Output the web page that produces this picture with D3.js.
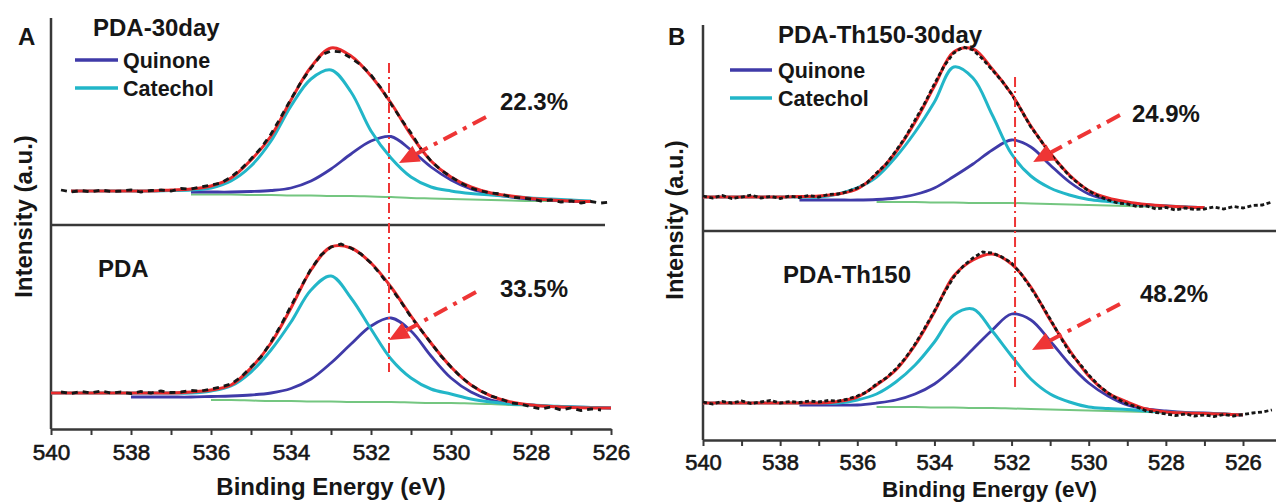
<!DOCTYPE html>
<html>
<head>
<meta charset="utf-8">
<script src="https://cdn.jsdelivr.net/npm/d3@7"></script>
<style>
  html, body { margin: 0; padding: 0; background: #fff; }
  svg { display: block; font-family: "Liberation Sans", Arial, sans-serif; }
</style>
</head>
<body>
<svg id="chart" width="1276" height="502"></svg>
<script>
// O 1s XPS spectra of PDA films: measured data, Catechol / Quinone components,
// their sum (envelope) and the background, plotted against binding energy (eV).

// Binding energies of the fitted curves (eV)
const fitEnergy = [540, 539.5, 539, 538.5, 538, 537.5, 537, 536.5, 536, 535.5, 535, 534.5, 534,
  533.5, 533, 532.5, 532, 531.5, 531, 530.5, 530, 529.5, 529, 528.5, 528, 527.5, 527, 526.5, 526];

// Binding energies of the measured points (eV)
const rawEnergy = [540, 539.75, 539.5, 539.25, 539, 538.75, 538.5, 538.25, 538, 537.75, 537.5, 537.25,
  537, 536.75, 536.5, 536.25, 536, 535.75, 535.5, 535.25, 535, 534.75, 534.5, 534.25, 534, 533.75,
  533.5, 533.25, 533, 532.75, 532.5, 532.25, 532, 531.75, 531.5, 531.25, 531, 530.75, 530.5, 530.25,
  530, 529.75, 529.5, 529.25, 529, 528.75, 528.5, 528.25, 528, 527.75, 527.5, 527.25, 527, 526.75,
  526.5, 526.25, 526, 525.75, 525.5, 525.25];

// ---- PDA-30day (intensity, a.u.) ----
const pda30Raw = [null, 35, 33, 34.5, 33, 35, 33.5, 34, 35, 33, 34.5, 35, 34,
  36.5, 36, 38, 40, 42, 48, 56, 66, 77, 91, 108, 126,
  143, 157, 170, 174, 173, 167, 160, 150, 137, 121, 106, 92,
  76, 64, 55, 48, 42, 37, 34, 32, 31, 28, 27, 26,
  24, 25, 23, 24, 22, 23.5, 22, 23, null, null, null];
const pda30Envelope = [null, 34, 34, 34, 34, 34, 35, 36, 39, 47, 65, 89, 125, 158, 177, 169, 149,
  122, 90, 64, 48, 38, 32, 29, 26.5, 25, 24, 23.5, null];
const pda30Catechol = [null, 34, 34, 34, 34, 34, 34.5, 35, 37, 44, 59, 84, 119, 146, 155, 133, 94,
  67, 48, 38, 34, 31.5, 30, 28.5, 27, 26, 25, 24, null];
const pda30Quinone = [null, null, null, null, null, null, null, 33, 33, 33, 33.5, 34.5, 37, 44, 56, 71,
  84, 88.5, 75, 58, 45, 36, 31, 28, 26, 25, 24, 23.5, null];
const pda30Background = [null, null, null, null, null, null, null, 30.5, 30.5, 30.5, 30, 30, 29.5,
  29.5, 29, 29, 28.5, 28, 27, 26.5, 26, 25.5, 25, 24.5, 24, 24, 23.5, 23, null];

// ---- PDA (intensity, a.u.) ----
const pdaRaw = [null, 37, 35.5, 37.5, 36, 38, 36, 37, 35.5, 37.5, 36, 38, 36.5,
  37, 38.5, 38, 40, 42, 45, 52, 62, 72, 87, 104, 123,
  142, 160, 174, 182, 185, 181, 175, 166, 154, 141, 127, 112,
  99, 86, 73, 62, 52, 44, 38, 33, 30, 26, 25, 22,
  20, 22, 19, 21, 18.5, 20, 19, null, null, null, null];
const pdaEnvelope = [36, 36, 36, 36, 36, 36, 36, 37, 39, 44, 61, 86, 121, 159, 182, 181, 166,
  142, 113, 86, 62, 44, 33, 27, 24, 22.5, 21.5, 21, 21];
const pdaCatechol = [36, 36, 36, 36, 36, 36, 36, 36, 38, 43, 57, 79, 107, 139, 153, 131, 100,
  70, 51, 40, 35, 30, 27, 25, 24, 23, 22, 21.5, 21];
const pdaQuinone = [null, null, null, null, 32, 32, 32, 32, 32.5, 33, 34, 36, 40.5, 50, 66, 85, 103,
  111, 98, 73, 51, 37, 29, 25.5, 24, 22.5, 22, 21.5, 21];
const pdaBackground = [null, null, null, null, null, null, null, null, 29, 29, 28.5, 28, 28, 27.5,
  27.5, 27, 27, 27, 26.5, 26, 26, 25.5, 25, 24, 23.5, 23, 22.5, 22, 21];

// ---- PDA-Th150-30day (intensity, a.u.) ----
const th30Raw = [35, 33, 35.5, 32.5, 34, 36, 33, 34.5, 32.5, 35, 33.5, 35.5, 34,
  36.5, 37, 39.5, 43, 48, 58, 67, 80, 94, 111, 128, 147,
  165, 178, 184, 181, 172, 161, 150, 137, 121, 104, 91, 77,
  66, 55, 47, 40, 35, 31, 28, 27, 24.5, 25, 22, 23.5,
  21, 23, 21.5, 22, 24, 22, 24.5, 23, 25.5, 26, 29];
const th30Envelope = [34, 34, 34, 34, 34, 34.5, 35, 37, 42, 57, 79, 109, 145, 179, 182, 162, 137,
  105, 78, 56, 40.5, 33, 29, 26.5, 25, 24, 23.5, null, null];
const th30Catechol = [34, 34, 34, 34, 34, 34, 34, 37, 43, 54, 74, 99, 129, 164, 153, 116, 77,
  55, 43, 36, 31.5, 29.5, 27.5, 26, 25, 24, 23.5, null, null];
const th30Quinone = [null, null, null, null, null, 31, 31, 31, 31, 31.5, 33, 36.5, 43, 54.5, 67, 81,
  91, 84, 66, 49, 37, 31, 28, 26, 25, 24, 23.5, null, null];
const th30Background = [null, null, null, null, null, null, null, null, null, 29, 29, 29, 28.5, 28.5,
  28, 28, 28, 27.5, 27, 26.5, 26, 25.5, 25, 24.5, 24, 23.5, 23, null, null];

// ---- PDA-Th150 (intensity, a.u.) ----
const thRaw = [38, 36, 38.5, 37, 39, 36.5, 38, 39.5, 37, 38.5, 37.5, 39, 38,
  39.5, 39, 41, 44, 48, 56, 62, 71, 82, 96, 112, 129,
  147, 163, 174, 182, 188, 187, 183, 177, 166, 152, 137, 121,
  104, 88, 77, 65, 55, 47, 41, 36, 33, 29, 27.5, 26,
  24.5, 26, 24, 25, 23.5, 25.5, 24, 25.5, 27, 28, 30];
const thEnvelope = [37, 37, 37, 37, 37, 37, 37, 38.5, 43, 55, 70, 95, 128, 164, 180, 186, 176,
  153, 120, 90, 64, 47, 38, 31, 28, 27, 26.5, 26, 25];
const thCatechol = [37, 37, 37, 37, 37, 37, 37, 37, 40, 46, 58, 75, 98, 125, 131, 109, 84,
  61, 46, 38, 33, 31.5, 30.5, 29, 28, 27, 26.5, 26, 25];
const thQuinone = [null, null, null, null, null, 35, 35, 35, 35, 37, 40, 46, 56, 72, 91, 110, 126,
  120, 99, 76, 57, 44, 35, 31, 29, 27.5, 27, 26, 25];
const thBackground = [null, null, null, null, null, null, null, null, null, 33, 33, 33, 32.5, 32.5,
  32, 32, 31.5, 31, 30.5, 30, 29.5, 29, 28.5, 28, 27.5, 27, 26.5, 26, 25.5];

// Quinone fraction of each sample (%)
const quinoneShare = [22.3, 33.5, 24.9, 48.2];

// Energy (eV) of the reference line drawn through each panel
const markerEnergy = { A: 531.55, B: 531.91 };

// Callout arrows and their labels, in (eV, a.u.)
const arrowFrom = [[529.125, 108], [529.375, 137], [529.19, 116], [529.19, 136]];
const arrowTo = [[531.3, 62], [531.55, 89], [531.44, 69], [531.47, 90]];
const shareLabelAt = [[528.775, 115], [528.775, 132], [528.88, 109], [528.67, 138]];

// Tick values and labels of the energy axis
const energyTicks = [540, 539, 538, 537, 536, 535, 534, 533, 532, 531, 530, 529, 528, 527, 526];
const energyTickLabels = ["540", "", "538", "", "536", "", "534", "", "532", "", "530", "", "528", "", "526"];

const colors = {
  raw: "#161616",
  envelope: "#e8292b",
  catechol: "#22b6c8",
  quinone: "#3f3aa8",
  background: "#74c680",
  marker: "#ee3535",
  axis: "#383838",
  text: "#161616"
};

const svg = d3.select("#chart");

// Panel frames
const panelLayout = {
  A: { x0: 51, x1: 611, domain: [540, 526], axisY: 429, top: 18, split: 225, splitEnd: 605,
       rawDash: "6,5", titleX: 331, titleY: 495, titleSize: 24, yTitleX: 32, yTitleY: 216.5, yTitleSize: 24,
       tickPad: 9, tickSize: 22.5, letterX: 18, letterY: 45 },
  B: { x0: 703, x1: 1275.8, domain: [540, 525.15], axisY: 440, top: 25, split: 231, splitEnd: 1276,
       rawDash: "4,2.5", titleX: 989.5, titleY: 497, titleSize: 22.5, yTitleX: 683, yTitleY: 220, yTitleSize: 23.5,
       tickPad: 8.5, tickSize: 22, letterX: 668, letterY: 45 }
};
// the B axis: 540 -> 703 px, 526 -> 1243 px, extended to the edge
panelLayout.B.x1 = 703 + (540 - 525.15) * (540 / 14);

const subplots = [
  { panel: "A", base: 225, raw: pda30Raw, env: pda30Envelope, cat: pda30Catechol, qui: pda30Quinone, bg: pda30Background,
    name: "PDA-30day", nameX: 93, nameY: 36, legend: { x0: 75, x1: 118, tx: 123, y1: 60, y2: 88 } },
  { panel: "A", base: 429, raw: pdaRaw, env: pdaEnvelope, cat: pdaCatechol, qui: pdaQuinone, bg: pdaBackground,
    name: "PDA", nameX: 98, nameY: 277 },
  { panel: "B", base: 231, raw: th30Raw, env: th30Envelope, cat: th30Catechol, qui: th30Quinone, bg: th30Background,
    name: "PDA-Th150-30day", nameX: 778, nameY: 43, legend: { x0: 730, x1: 772, tx: 778, y1: 70, y2: 98 } },
  { panel: "B", base: 440, raw: thRaw, env: thEnvelope, cat: thCatechol, qui: thQuinone, bg: thBackground,
    name: "PDA-Th150", nameX: 783, nameY: 283 }
];

const xScales = {};
Object.entries(panelLayout).forEach(([key, p]) => {
  xScales[key] = d3.scaleLinear().domain(p.domain).range([p.x0, p.x1]);
});

function yScaleFor(base) {
  return d3.scaleLinear().domain([0, 200]).range([base, base - 200]);
}

// ---- axes and frames ----
Object.entries(panelLayout).forEach(([key, p]) => {
  const x = xScales[key];
  const g = svg.append("g");

  // vertical (intensity) axis line
  g.append("line")
    .attr("x1", p.x0).attr("x2", p.x0)
    .attr("y1", p.top).attr("y2", p.axisY)
    .attr("stroke", colors.axis).attr("stroke-width", 2.5);

  // line separating the two spectra
  g.append("line")
    .attr("x1", p.x0).attr("x2", p.splitEnd)
    .attr("y1", p.split).attr("y2", p.split)
    .attr("stroke", colors.axis).attr("stroke-width", 2.5);

  const axis = d3.axisBottom(x)
    .tickValues(energyTicks)
    .tickFormat((d, i) => energyTickLabels[i])
    .tickSize(6)
    .tickSizeOuter(0)
    .tickPadding(p.tickPad);

  const ag = g.append("g")
    .attr("transform", `translate(0,${p.axisY})`)
    .call(axis);
  ag.select(".domain").attr("stroke", colors.axis).attr("stroke-width", 2.5);
  ag.selectAll(".tick line").attr("stroke", colors.axis).attr("stroke-width", 2);
  ag.selectAll(".tick text")
    .attr("font-family", "'Liberation Sans', Arial, sans-serif")
    .attr("font-size", p.tickSize)
    .attr("fill", colors.text)
    .attr("stroke", colors.text)
    .attr("stroke-width", 0.6);

  // axis titles
  g.append("text")
    .attr("x", p.titleX).attr("y", p.titleY)
    .attr("text-anchor", "middle")
    .attr("font-weight", "bold").attr("font-size", p.titleSize)
    .attr("fill", colors.text)
    .text("Binding Energy (eV)");

  g.append("text")
    .attr("transform", `translate(${p.yTitleX},${p.yTitleY}) rotate(-90)`)
    .attr("text-anchor", "middle")
    .attr("font-weight", "bold").attr("font-size", p.yTitleSize)
    .attr("fill", colors.text)
    .text("Intensity (a.u.)");

  // panel letter
  g.append("text")
    .attr("x", p.letterX).attr("y", p.letterY)
    .attr("font-weight", "bold").attr("font-size", 24)
    .attr("fill", colors.text)
    .text(key);
});

// ---- spectra ----
const fitLine = (x, y) => d3.line()
  .defined(d => d[1] !== null)
  .x(d => x(d[0])).y(d => y(d[1]))
  .curve(d3.curveCatmullRom.alpha(0.5));

const rawLine = (x, y) => d3.line()
  .defined(d => d[1] !== null)
  .x(d => x(d[0])).y(d => y(d[1]));

subplots.forEach((s, i) => {
  const p = panelLayout[s.panel];
  const x = xScales[s.panel];
  const y = yScaleFor(s.base);
  const g = svg.append("g");
  const pairs = arr => fitEnergy.map((e, k) => [e, arr[k]]);

  g.append("path").datum(pairs(s.bg))
    .attr("d", fitLine(x, y)).attr("fill", "none")
    .attr("stroke", colors.background).attr("stroke-width", 2);

  g.append("path").datum(pairs(s.qui))
    .attr("d", fitLine(x, y)).attr("fill", "none")
    .attr("stroke", colors.quinone).attr("stroke-width", 2.8)
    .attr("stroke-linejoin", "round");

  g.append("path").datum(pairs(s.cat))
    .attr("d", fitLine(x, y)).attr("fill", "none")
    .attr("stroke", colors.catechol).attr("stroke-width", 3)
    .attr("stroke-linejoin", "round");

  g.append("path").datum(pairs(s.env))
    .attr("d", fitLine(x, y)).attr("fill", "none")
    .attr("stroke", colors.envelope).attr("stroke-width", 3)
    .attr("stroke-linejoin", "round");

  g.append("path").datum(rawEnergy.map((e, k) => [e, s.raw[k]]))
    .attr("d", rawLine(x, y)).attr("fill", "none")
    .attr("stroke", colors.raw).attr("stroke-width", 2.8)
    .attr("stroke-dasharray", p.rawDash);

  // spectrum name
  g.append("text")
    .attr("x", s.nameX).attr("y", s.nameY)
    .attr("font-weight", "bold").attr("font-size", 24)
    .attr("fill", colors.text)
    .text(s.name);

  // legend
  if (s.legend) {
    const L = s.legend;
    [["Quinone", colors.quinone, L.y1], ["Catechol", colors.catechol, L.y2]].forEach(([label, c, ly]) => {
      g.append("line")
        .attr("x1", L.x0).attr("x2", L.x1).attr("y1", ly).attr("y2", ly)
        .attr("stroke", c).attr("stroke-width", 3.5);
      g.append("text")
        .attr("x", L.tx).attr("y", ly + 7.5)
        .attr("font-weight", "bold").attr("font-size", 21.5)
        .attr("fill", colors.text)
        .text(label);
    });
  }

  // callout arrow with the quinone share
  const x1 = x(arrowFrom[i][0]), y1 = y(arrowFrom[i][1]);
  const x2 = x(arrowTo[i][0]), y2 = y(arrowTo[i][1]);
  const len = Math.hypot(x2 - x1, y2 - y1);
  const ux = (x2 - x1) / len, uy = (y2 - y1) / len;
  const head = 20, half = 9;
  const bx = x2 - ux * head, by = y2 - uy * head;
  g.append("line")
    .attr("x1", x1).attr("y1", y1).attr("x2", bx).attr("y2", by)
    .attr("stroke", colors.marker).attr("stroke-width", 4)
    .attr("stroke-dasharray", "15,7,4,7");
  g.append("path")
    .attr("d", `M${x2},${y2}L${bx - uy * half},${by + ux * half}L${bx + uy * half},${by - ux * half}Z`)
    .attr("fill", colors.marker);

  g.append("text")
    .attr("x", x(shareLabelAt[i][0])).attr("y", y(shareLabelAt[i][1]))
    .attr("font-weight", "bold").attr("font-size", 24)
    .attr("fill", colors.text)
    .text(quinoneShare[i].toFixed(1) + "%");
});

// ---- vertical reference lines through both spectra of a panel ----
[["A", 162, 57], ["B", 154, 53]].forEach(([key, vTop, vBottom]) => {
  const x = xScales[key];
  const pair = subplots.filter(s => s.panel === key);
  const yTop = yScaleFor(pair[0].base), yBottom = yScaleFor(pair[1].base);
  svg.append("line")
    .attr("x1", x(markerEnergy[key])).attr("x2", x(markerEnergy[key]))
    .attr("y1", yTop(vTop)).attr("y2", yBottom(vBottom))
    .attr("stroke", colors.marker).attr("stroke-width", 2)
    .attr("stroke-dasharray", "10,4,2,4");
});
</script>
</body>
</html>
